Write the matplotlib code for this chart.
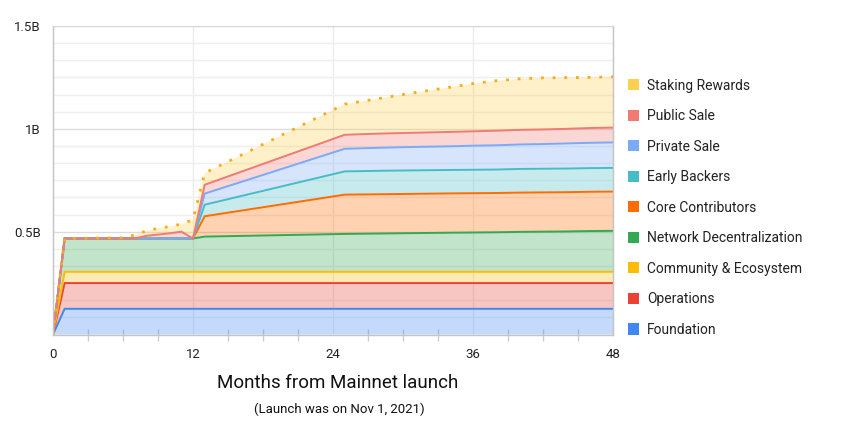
import numpy as np
import matplotlib
matplotlib.use("Agg")
import matplotlib.pyplot as plt
from matplotlib.patches import Patch
from matplotlib.ticker import FixedLocator, MultipleLocator

plt.rcParams['font.family'] = ['Roboto', 'DejaVu Sans']

# ---- data (billions of tokens, per series, stacked) ----
months = [0, 1, 6, 7, 8, 9, 10, 11, 12, 13, 25, 28, 31, 34, 36, 38, 40, 42, 44, 46, 48]

foundation = [0, 0.125, 0.125, 0.125, 0.125, 0.125, 0.125, 0.125, 0.125, 0.125, 0.125,
              0.125, 0.125, 0.125, 0.125, 0.125, 0.125, 0.125, 0.125, 0.125, 0.125]
operations = [0, 0.125, 0.125, 0.125, 0.125, 0.125, 0.125, 0.125, 0.125, 0.125, 0.125,
              0.125, 0.125, 0.125, 0.125, 0.125, 0.125, 0.125, 0.125, 0.125, 0.125]
community = [0, 0.055, 0.055, 0.055, 0.055, 0.055, 0.055, 0.055, 0.055, 0.055, 0.055,
             0.055, 0.055, 0.055, 0.055, 0.055, 0.055, 0.055, 0.055, 0.055, 0.055]
network = [0, 0.162, 0.162, 0.162, 0.162, 0.162, 0.162, 0.162, 0.162, 0.171, 0.184,
           0.186, 0.188, 0.190, 0.191, 0.192, 0.194, 0.195, 0.196, 0.198, 0.199]
core = [0, 0, 0, 0, 0, 0, 0, 0, 0, 0.099, 0.191,
        0.191, 0.191, 0.191, 0.191, 0.191, 0.191, 0.191, 0.191, 0.191, 0.191]
early = [0, 0, 0, 0, 0, 0, 0, 0, 0, 0.056, 0.113,
         0.114, 0.114, 0.114, 0.114, 0.114, 0.115, 0.115, 0.115, 0.115, 0.115]
private = [0, 0, 0, 0, 0, 0, 0, 0, 0, 0.054, 0.110,
           0.112, 0.114, 0.115, 0.117, 0.118, 0.119, 0.120, 0.122, 0.123, 0.124]
public = [0, 0, 0, 0, 0.013, 0.019, 0.025, 0.033, 0, 0.043, 0.068,
          0.069, 0.069, 0.070, 0.070, 0.071, 0.071, 0.071, 0.071, 0.072, 0.072]
staking = [0, 0, 0.003, 0.017, 0.024, 0.030, 0.033, 0.037, 0.091, 0.057, 0.149,
           0.171, 0.195, 0.217, 0.232, 0.243, 0.248, 0.251, 0.249, 0.246, 0.247]

labels = ["Foundation", "Operations", "Community & Ecosystem", "Network Decentralization",
          "Core Contributors", "Early Backers", "Private Sale", "Public Sale", "Staking Rewards"]
colors = ["#4285F4", "#EA4335", "#FBBC04", "#34A853", "#FF6D01",
          "#46BDC6", "#7BAAF7", "#F07B72", "#FCD04F"]
series = [foundation, operations, community, network, core, early, private, public, staking]

x_ticks = [0, 12, 24, 36, 48]
y_ticks = [0.5, 1.0, 1.5]
y_tick_labels = ["0.5B", "1B", "1.5B"]

# ---- figure ----
fig = plt.figure(figsize=(8.43, 4.38), dpi=100)
ax = fig.add_axes([53 / 843, 1 - 334.5 / 438, 560 / 843, 308.5 / 438])

# grid
ax.set_axisbelow(True)
ax.yaxis.set_major_locator(FixedLocator(y_ticks))
ax.yaxis.set_minor_locator(MultipleLocator(0.5 / 6))
ax.xaxis.set_major_locator(FixedLocator(x_ticks))
ax.xaxis.set_minor_locator(MultipleLocator(3))
ax.grid(axis='y', which='major', color='#dcdcdc', linewidth=1.0)
ax.grid(axis='y', which='minor', color='#efefef', linewidth=1.0)
ax.grid(axis='x', which='major', color='#ebebeb', linewidth=1.0)

ax.stackplot(months, *series, colors=colors, alpha=0.3, linewidth=0)
cum = np.cumsum(np.array(series), axis=0)
for i, (c, lab) in enumerate(zip(colors, labels)):
    if lab == "Staking Rewards":
        ax.plot(months, cum[i], color="#F2AE1C", linewidth=2.0,
                linestyle=(0, (1, 3.2)), dash_capstyle='butt')
    else:
        ax.plot(months, cum[i], color=c, linewidth=1.4, solid_joinstyle='miter')

ax.set_xlim(0, 48)
ax.set_ylim(0, 1.5)
ax.set_yticklabels(y_tick_labels)
ax.tick_params(axis='y', which='both', length=0, pad=9, labelsize=9.5, labelcolor='#222222')
ax.tick_params(axis='x', which='major', length=0, pad=10, labelsize=9.5, labelcolor='#222222')
ax.tick_params(axis='x', which='minor', length=9, direction='inout', color='#cccccc', width=1)

for side in ['left', 'right', 'bottom']:
    ax.spines[side].set_color('#c4c4c4')
    ax.spines[side].set_linewidth(1.0)
ax.spines['top'].set_color('#d6d6d6')

# x axis titles
fig.text(338 / 843, 1 - 383 / 438, "Months from Mainnet launch", ha='center', va='center',
         fontsize=13.5, color='#111111')
fig.text(339 / 843, 1 - 409 / 438, "(Launch was on Nov 1, 2021)", ha='center', va='center',
         fontsize=9.5, color='#111111')

# legend (reverse order)
handles = [Patch(facecolor=c, edgecolor='none') for c in colors][::-1]
leg = fig.legend(handles, labels[::-1], loc='upper left',
                 bbox_to_anchor=(622 / 843, 1 - 73 / 438), frameon=False,
                 fontsize=10, handlelength=0.85, handleheight=0.85,
                 handletextpad=0.55, labelspacing=1.19, borderaxespad=0)
for t in leg.get_texts():
    t.set_color('#222222')

fig.savefig("out.png", dpi=100)
